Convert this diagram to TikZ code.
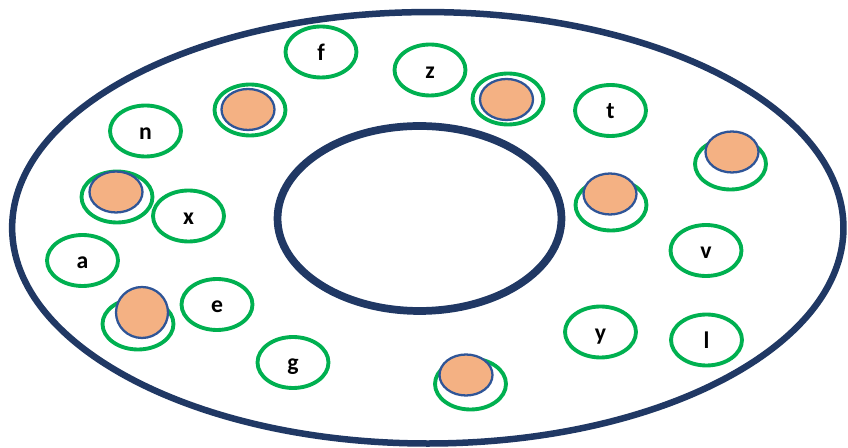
\documentclass[tikz,border=0pt]{standalone}
\usepackage{fontspec}
\setmainfont{Carlito}
\usetikzlibrary{shapes.geometric}
\definecolor{ring}{HTML}{203864}
\definecolor{spotgreen}{HTML}{00B050}
\definecolor{tokfill}{HTML}{F4B183}
\definecolor{tokline}{HTML}{2F5597}

\begin{document}
\begin{tikzpicture}[
  x=0.02cm,y=-0.02cm,
  line cap=round,line join=round,
  band/.style={draw=ring,line width=3.7pt},
  spot/.style={draw=spotgreen,line width=2.2pt,ellipse,inner sep=0pt,
    minimum width=1.42cm,minimum height=1.02cm,
    font=\fontsize{13.5}{16}\selectfont\bfseries,
    text height=2ex,text depth=0pt},
  tok/.style={draw=tokline,fill=tokfill,line width=1.3pt,ellipse,inner sep=0pt,
    minimum width=1.06cm,minimum height=0.82cm}
]
\useasboundingbox (0,0) rectangle (848,448);

% Outer and inner boundary of the ring.
\node[band,ellipse,minimum width=16.63cm,minimum height=8.63cm] (outer) at (427.8,227.8) {};
\node[band,ellipse,line width=4.4pt,minimum width=5.68cm,minimum height=3.70cm] (inner) at (419.5,218.5) {};

% Labelled places.
\node[spot] (f) at (321,52) {f};
\node[spot] (z) at (430,70) {z};
\node[spot] (n) at (145.5,131) {n};
\node[spot] (t) at (610.5,110.5) {t};
\node[spot] (x) at (188.5,216) {x};
\node[spot] (a) at (82.5,260.5) {a};
\node[spot] (e) at (217,304.5) {e};
\node[spot] (g) at (293,362.5) {g};
\node[spot] (v) at (706,250.5) {v};
\node[spot] (y) at (600.5,332) {y};
\node[spot] (l) at (706.5,340) {l};

% Occupied places: a token sits on each empty green ring.
\foreach \i/\sx/\sy/\tx/\ty in {1/250/110/248/109.5, 2/508/99/506.5/99.5,
    3/117/197/116/192, 4/730.5/164/732/152, 5/611/205/610/194,
    7/470.5/384/466/375} {
  \node[spot] (spot\i) at (\sx,\sy) {};
  \node[tok] (tok\i) at (\tx,\ty) {};
}
\node[spot] (spot6) at (138,324) {};
\node[tok,minimum width=1.04cm,minimum height=1.02cm] (tok6) at (142,312.5) {};

\end{tikzpicture}
\end{document}
